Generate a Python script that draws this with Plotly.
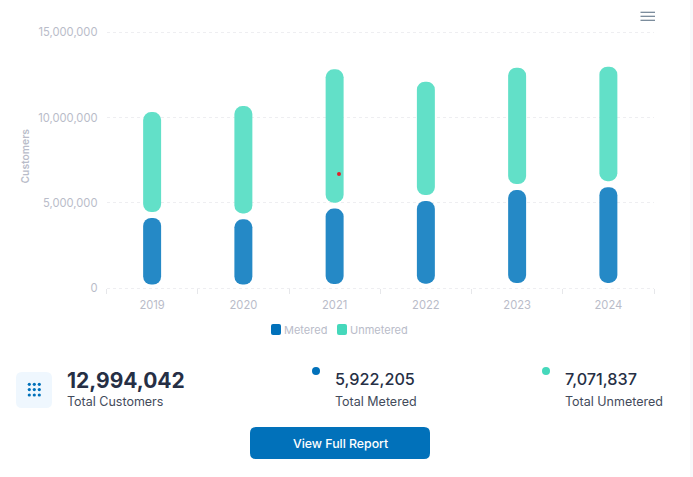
"""Customers by year, metered and unmetered, with the totals strip below."""

import numpy as np
import plotly.graph_objects as go

WIDTH = 693
HEIGHT = 477

years = ["2019", "2020", "2021", "2022", "2023", "2024"]
metered = [4110000, 4030000, 4660000, 5110000, 5750000, 5922205]
unmetered = [6220000, 6650000, 8180000, 7000000, 7180000, 7071837]
y_ticks = [0, 5000000, 10000000, 15000000]

METERED_SOLID = "#0171BA"
UNMETERED_SOLID = "#45D8BB"
METERED_BAR = "#2589C6"
UNMETERED_BAR = "#62E0C8"
MUTED = "#B9BCC9"
DARK = "#262F45"
LABEL = "#434B5B"

# white gap the chart library leaves under each segment
SEGMENT_GAP = 350000
BASE_GAP_SHARE = 0.05

# pixels the value axis runs past 0 and 15M so their gridlines stay drawn
AXIS_PAD_PX = 2
PX_PER_UNIT = 255.5 / 15000000


def px(x: float) -> float:
    return x / WIDTH


def py(y: float) -> float:
    return 1 - y / HEIGHT


def _rounded_rect(x0: float, y0: float, x1: float, y1: float, r: float, color: str) -> dict:
    """Rounded rectangle in page pixels, as a paper-referenced path."""
    path = (
        f"M {px(x0 + r)} {py(y0)} L {px(x1 - r)} {py(y0)} "
        f"Q {px(x1)} {py(y0)} {px(x1)} {py(y0 + r)} L {px(x1)} {py(y1 - r)} "
        f"Q {px(x1)} {py(y1)} {px(x1 - r)} {py(y1)} L {px(x0 + r)} {py(y1)} "
        f"Q {px(x0)} {py(y1)} {px(x0)} {py(y1 - r)} L {px(x0)} {py(y0 + r)} "
        f"Q {px(x0)} {py(y0)} {px(x0 + r)} {py(y0)} Z"
    )
    return dict(type="path", xref="paper", yref="paper", path=path,
                fillcolor=color, line=dict(width=0), layer="above")


def _dot(x: float, y: float, r: float, color: str) -> dict:
    return dict(type="circle", xref="paper", yref="paper",
                x0=px(x - r), x1=px(x + r), y0=py(y + r), y1=py(y - r),
                fillcolor=color, line=dict(width=0), layer="above")


def _hline(x0: float, x1: float, y: float, color: str, width: float = 1.2) -> dict:
    return dict(type="line", xref="paper", yref="paper",
                x0=px(x0), x1=px(x1), y0=py(y), y1=py(y),
                line=dict(color=color, width=width))


def _text(x: float, y: float, text: str, size: float, color: str,
          weight: int = 400, xanchor: str = "left") -> dict:
    return dict(xref="paper", yref="paper", x=px(x), y=py(y), text=text,
                showarrow=False, xanchor=xanchor, yanchor="middle",
                font=dict(family="Inter", size=size, color=color, weight=weight))


def _segment(fig: go.Figure, name: str, low: np.ndarray, high: np.ndarray, color: str) -> None:
    fig.add_trace(
        go.Bar(
            x=years,
            y=high - low,
            base=low,
            name=name,
            width=0.197,
            marker=dict(color=color, cornerradius=9, line=dict(width=0)),
            showlegend=False,
        )
    )


metered_top = np.array(metered, dtype=float)
stack_top = metered_top + np.array(unmetered, dtype=float)

fig = go.Figure()
_segment(fig, "Metered", metered_top * BASE_GAP_SHARE, metered_top, METERED_BAR)
_segment(fig, "Unmetered", metered_top + SEGMENT_GAP, stack_top, UNMETERED_BAR)

shapes = [
    _rounded_rect(16, 372, 52, 408, 6, "#EFF7FE"),
    _rounded_rect(250, 427, 430, 459, 6, METERED_SOLID),
    _rounded_rect(271, 324, 281, 335, 2, METERED_SOLID),
    _rounded_rect(337, 324, 347, 335, 2, UNMETERED_SOLID),
    _dot(316, 371, 4, METERED_SOLID),
    _dot(546, 371, 4, UNMETERED_SOLID),
    _dot(339, 174, 2, "#E0202A"),
    _hline(640.5, 655, 12.3, "#6E8192"),
    _hline(640.5, 655, 16.3, "#6E8192"),
    _hline(640.5, 655, 20.3, "#6E8192"),
    dict(type="rect", xref="paper", yref="paper", x0=px(690), x1=1, y0=0, y1=1,
         fillcolor="#F8F8FA", line=dict(width=0), layer="below"),
]
shapes += [
    _dot(x, y, 1.6, METERED_SOLID)
    for x in (29.3, 34.3, 39.3)
    for y in (384.3, 389.6, 395)
]

annotations = [
    dict(_text(24, 156.5, "Customers", 10.3, MUTED, 600, "center"), textangle=-90),
    _text(282, 330, "Metered", 11, MUTED),
    _text(348, 330, "Unmetered", 11, MUTED),
    _text(64.5, 380, "12,994,042", 21, DARK, 700),
    _text(64.5, 401, "Total Customers", 12.5, LABEL),
    _text(332.5, 379, "5,922,205", 16.2, DARK, 500),
    _text(332.5, 401, "Total Metered", 12.5, LABEL),
    _text(562.5, 379, "7,071,837", 16.2, DARK, 500),
    _text(562.5, 401, "Total Unmetered", 12.5, LABEL),
    _text(340, 443, "View Full Report", 12.3, "#FFFFFF", 500, "center"),
]

axis_pad = AXIS_PAD_PX / PX_PER_UNIT

fig.update_layout(
    width=WIDTH,
    height=HEIGHT,
    margin=dict(l=0, r=0, t=0, b=0, autoexpand=False),
    paper_bgcolor="#FFFFFF",
    plot_bgcolor="#FFFFFF",
    barmode="overlay",
    font=dict(family="Inter", color=MUTED, size=11),
    shapes=shapes,
    annotations=annotations,
    showlegend=False,
)
fig.update_xaxes(
    domain=[px(106.5), px(654)],
    type="category",
    anchor="free",
    position=py(288),
    tickson="boundaries",
    ticks="outside",
    ticklen=5,
    tickcolor="#E6E7EA",
    showgrid=False,
    showline=False,
    zeroline=False,
    ticklabelstandoff=9,
    tickfont=dict(size=11.2, color=MUTED),
)
fig.update_yaxes(
    domain=[py(288 + AXIS_PAD_PX), py(32.5 - AXIS_PAD_PX)],
    range=[-axis_pad, 15000000 + axis_pad],
    tickvals=y_ticks,
    tickformat=",",
    griddash="3px,3px",
    gridcolor="#EEEEF1",
    zeroline=False,
    showline=False,
    ticks="",
    ticklabelstandoff=8,
    tickfont=dict(size=11.2, color=MUTED),
)

fig.write_html(
    "out.html",
    config=dict(displayModeBar=False),
    post_script="document.body.style.margin='0';document.body.style.overflow='hidden';",
)
